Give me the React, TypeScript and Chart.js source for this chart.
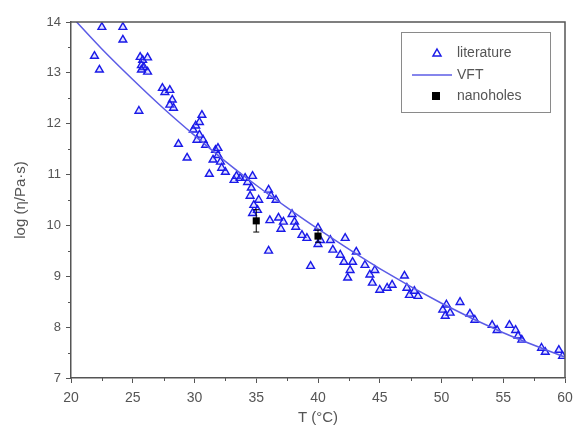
import React, { useEffect, useRef } from "react";
import { Chart, registerables } from "chart.js";

Chart.register(...registerables);

// Literature data: temperature (°C) and log(η/Pa·s)
const litT = [
  22.5, 24.2, 24.2, 21.9, 22.3, 25.5, 25.6, 25.8, 26.2, 25.7,
  25.9, 26.2, 25.7, 27.4, 27.6, 28.0, 28.2, 28.0, 28.3, 28.7,
  29.4, 29.9, 30.1, 30.4, 30.6, 30.4, 30.7, 30.9, 30.2, 31.2,
  31.5, 31.7, 31.9, 32.1, 32.2, 32.5, 31.9, 33.2, 33.4, 33.7,
  34.1, 34.3, 34.7, 34.6, 34.5, 34.8, 34.7, 35.2, 35.1, 36.0,
  36.2, 36.6, 36.1, 36.8, 37.2, 37.0, 36.0, 37.9, 38.1, 38.2,
  38.7, 39.1, 39.4, 40.0, 40.2, 40.0, 41.0, 41.2, 42.2, 41.8,
  42.1, 42.6, 42.4, 42.8, 43.1, 43.8, 44.2, 44.6, 44.4, 45.0,
  45.6, 46.0, 47.0, 47.2, 47.4, 47.8, 48.1, 50.1, 50.3, 50.7,
  50.4, 51.5, 52.3, 52.7, 54.1, 54.5, 55.5, 56.0, 56.2, 56.5,
  58.1, 58.4, 59.5, 59.8,
];
const litLog = [
  13.9, 13.9, 13.65, 13.33, 13.06, 12.25, 13.31, 13.25, 13.3, 13.15,
  13.11, 13.02, 13.06, 12.7, 12.62, 12.66, 12.47, 12.37, 12.31, 11.6,
  11.33, 11.88, 11.96, 12.03, 12.17, 11.78, 11.68, 11.58, 11.68, 11.01,
  11.29, 11.48, 11.38, 11.25, 11.13, 11.05, 11.52, 10.89, 10.97, 10.93,
  10.93, 10.85, 10.97, 10.74, 10.58, 10.4, 10.24, 10.5, 10.3, 10.7,
  10.58, 10.5, 10.1, 10.15, 10.07, 9.93, 9.5, 10.22, 10.07, 9.97,
  9.81, 9.75, 9.2, 9.95, 9.71, 9.63, 9.71, 9.52, 9.75, 9.42,
  9.28, 9.12, 8.97, 9.28, 9.48, 9.22, 9.03, 9.12, 8.87, 8.73,
  8.77, 8.83, 9.01, 8.77, 8.63, 8.71, 8.61, 8.34, 8.22, 8.28,
  8.44, 8.49, 8.26, 8.14, 8.04, 7.94, 8.04, 7.94, 7.83, 7.75,
  7.59, 7.51, 7.55, 7.43,
];

// VFT curve
const vftT = [20, 22.5, 25, 27.5, 30, 32.5, 35, 37.5, 40, 45, 50, 55, 60];
const vftLog = [14.12, 13.47, 12.87, 12.3, 11.77, 11.26, 10.79, 10.35, 9.93, 9.15, 8.47, 7.89, 7.41];

// Nanoholes measurements
const nanoT = [35, 40];
const nanoLog = [10.09, 9.79];
const nanoErr = [0.22, 0.12];

// Axis ticks
const xMajorTicks = [20, 25, 30, 35, 40, 45, 50, 55, 60];
const yMajorTicks = [7, 8, 9, 10, 11, 12, 13, 14];

const legendLabels = ["literature", "VFT", "nanoholes"];

const TEXT = "#555555";
const AXIS = "#555555";
const BLUE = "#1a1ae8";
const LINE = "#5c5ce6";
const FONT = "'Liberation Sans', Arial, sans-serif";

const decorPlugin = {
  id: "decor",
  afterDatasetsDraw(chart: any) {
    const ctx = chart.ctx;
    const xs = chart.scales.x;
    const ys = chart.scales.y;
    ctx.save();
    // error bars for nanoholes
    ctx.strokeStyle = "#000";
    ctx.lineWidth = 1;
    nanoT.forEach((t, i) => {
      const px = xs.getPixelForValue(t);
      const y1 = ys.getPixelForValue(nanoLog[i] - nanoErr[i]);
      const y2 = ys.getPixelForValue(nanoLog[i] + nanoErr[i]);
      ctx.beginPath();
      ctx.moveTo(px, y1);
      ctx.lineTo(px, y2);
      ctx.moveTo(px - 3, y1);
      ctx.lineTo(px + 3, y1);
      ctx.moveTo(px - 3, y2);
      ctx.lineTo(px + 3, y2);
      ctx.stroke();
    });
    ctx.restore();
  },
  afterDraw(chart: any) {
    const ctx = chart.ctx;
    const { left, right, top, bottom } = chart.chartArea;
    const xs = chart.scales.x;
    const ys = chart.scales.y;
    ctx.save();
    // frame top/right
    ctx.strokeStyle = AXIS;
    ctx.lineWidth = 1.5;
    ctx.beginPath();
    ctx.moveTo(left, top);
    ctx.lineTo(right, top);
    ctx.lineTo(right, bottom);
    ctx.stroke();
    // minor ticks
    ctx.lineWidth = 1;
    ctx.beginPath();
    for (let i = 0; i < xMajorTicks.length - 1; i++) {
      const v = (xMajorTicks[i] + xMajorTicks[i + 1]) / 2;
      const px = Math.round(xs.getPixelForValue(v)) + 0.5;
      ctx.moveTo(px, bottom);
      ctx.lineTo(px, bottom + 3);
    }
    for (let i = 0; i < yMajorTicks.length - 1; i++) {
      const v = (yMajorTicks[i] + yMajorTicks[i + 1]) / 2;
      const py = Math.round(ys.getPixelForValue(v)) + 0.5;
      ctx.moveTo(left, py);
      ctx.lineTo(left - 3, py);
    }
    ctx.stroke();

    // axis titles
    ctx.fillStyle = TEXT;
    ctx.font = `15px ${FONT}`;
    ctx.textAlign = "center";
    ctx.textBaseline = "middle";
    ctx.fillText("T (°C)", (left + right) / 2, 418);
    ctx.save();
    ctx.translate(21, (top + bottom) / 2);
    ctx.rotate(-Math.PI / 2);
    ctx.fillText("log (η/Pa·s)", 0, 0);
    ctx.restore();

    // legend
    const bx = 401, by = 32, bw = 149, bh = 80;
    ctx.strokeStyle = "#8a8a8a";
    ctx.lineWidth = 1;
    ctx.strokeRect(bx + 0.5, by + 0.5, bw, bh);
    ctx.font = `14px ${FONT}`;
    ctx.textAlign = "left";
    ctx.fillStyle = TEXT;
    const rows = [53, 75, 96];
    // triangle
    ctx.strokeStyle = BLUE;
    ctx.lineWidth = 1.5;
    ctx.beginPath();
    ctx.moveTo(437, rows[0] - 4);
    ctx.lineTo(441, rows[0] + 3);
    ctx.lineTo(433, rows[0] + 3);
    ctx.closePath();
    ctx.stroke();
    // line
    ctx.strokeStyle = LINE;
    ctx.lineWidth = 1.5;
    ctx.beginPath();
    ctx.moveTo(412, rows[1]);
    ctx.lineTo(452, rows[1]);
    ctx.stroke();
    // square
    ctx.fillStyle = "#000";
    ctx.fillRect(432, rows[2] - 4, 8, 8);
    ctx.fillStyle = TEXT;
    legendLabels.forEach((l, i) => ctx.fillText(l, 457, rows[i]));
    ctx.restore();
  },
};

export default function App() {
  const ref = useRef<HTMLCanvasElement | null>(null);
  useEffect(() => {
    if (!ref.current) return;
    const chart = new Chart(ref.current, {
      type: "scatter",
      data: {
        datasets: [
          {
            label: "literature",
            data: litT.map((t, i) => ({ x: t, y: litLog[i] })),
            pointStyle: "triangle",
            pointRadius: 4.5,
            borderColor: BLUE,
            backgroundColor: "rgba(140,140,255,0.25)",
            borderWidth: 1.4,
            showLine: false,
            order: 2,
          },
          {
            label: "VFT",
            data: vftT.map((t, i) => ({ x: t, y: vftLog[i] })),
            showLine: true,
            pointRadius: 0,
            borderColor: LINE,
            borderWidth: 1.5,
            cubicInterpolationMode: "monotone",
            order: 1,
          },
          {
            label: "nanoholes",
            data: nanoT.map((t, i) => ({ x: t, y: nanoLog[i] })),
            pointStyle: "rect",
            pointRadius: 5,
            borderColor: "#000",
            backgroundColor: "#000",
            borderWidth: 0,
            showLine: false,
            order: 0,
          },
        ],
      },
      options: {
        animation: false,
        responsive: false,
        maintainAspectRatio: false,
        layout: { padding: { left: 0, right: 8, top: 22, bottom: 0 } },
        plugins: {
          legend: { display: false },
          tooltip: { enabled: false },
        },
        scales: {
          x: {
            type: "linear",
            min: 20,
            max: 60,
            afterBuildTicks: (s: any) => {
              s.ticks = xMajorTicks.map((v) => ({ value: v }));
            },
            afterFit: (s: any) => {
              s.height = 59;
              s.paddingRight = 0;
              s.paddingLeft = 0;
            },
            ticks: {
              color: TEXT,
              font: { family: FONT, size: 14 },
              padding: 7,
              maxRotation: 0,
              autoSkip: false,
            },
            grid: {
              display: true,
              drawOnChartArea: false,
              drawTicks: true,
              tickLength: 5,
              color: AXIS,
            },
            border: { display: true, color: AXIS, width: 1.5 },
          },
          y: {
            type: "linear",
            min: 7,
            max: 14,
            afterBuildTicks: (s: any) => {
              s.ticks = yMajorTicks.map((v) => ({ value: v }));
            },
            afterFit: (s: any) => {
              s.width = 71;
              s.paddingTop = 0;
              s.paddingBottom = 0;
            },
            ticks: {
              color: TEXT,
              font: { family: FONT, size: 13 },
              padding: 5,
              autoSkip: false,
            },
            grid: {
              display: true,
              drawOnChartArea: false,
              drawTicks: true,
              tickLength: 5,
              color: AXIS,
            },
            border: { display: true, color: AXIS, width: 1.5 },
          },
        },
      },
      plugins: [decorPlugin],
    });
    return () => chart.destroy();
  }, []);
  return (
    <div style={{ position: "fixed", left: 0, top: 0, width: 573, height: 437, background: "#fff" }}>
      <canvas ref={ref} width={573} height={437} style={{ width: 573, height: 437, display: "block" }} />
    </div>
  );
}
